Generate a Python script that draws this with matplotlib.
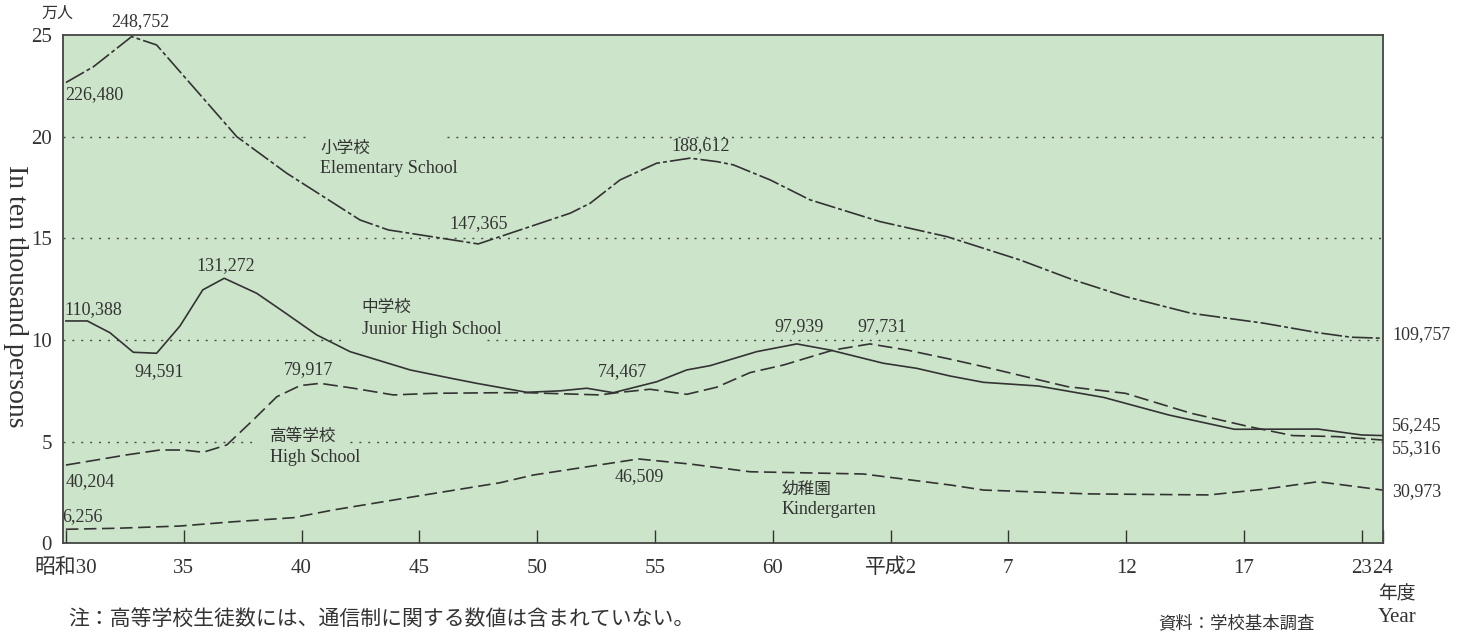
import matplotlib
matplotlib.use("Agg")
import matplotlib.pyplot as plt

plt.rcParams['font.family'] = ['Liberation Serif', 'Noto Sans CJK JP']
plt.rcParams['lines.scale_dashes'] = False

# x = years counted from 昭和30 on the chart's own scale (tick "23" sits at 55)
elem_x = [0, 1.17, 2.79, 3.85, 7.25, 9.37, 12.48, 13.68, 17.50, 21.40, 22.25, 23.52, 25.07,
          26.49, 27.63, 28.33, 29.89, 31.58, 34.55, 37.39, 40.50, 42.66, 44.97, 47.75,
          50.84, 53.15, 54.54, 55.89]
elem_y = [22.67, 23.45, 24.93, 24.52, 20.01, 18.21, 15.91, 15.42, 14.73, 16.24, 16.73, 17.88,
          18.70, 18.95, 18.78, 18.62, 17.88, 16.90, 15.83, 15.09, 13.94, 13.00, 12.14, 11.32,
          10.83, 10.36, 10.14, 10.09]

jhs_x = [0, 0.91, 1.87, 2.86, 3.85, 4.84, 5.81, 6.72, 8.10, 9.23, 10.65, 12.06, 14.61, 16.30,
         17.44, 19.56, 20.97, 22.11, 23.23, 25.08, 26.35, 27.34, 29.32, 31.02, 32.43, 34.69,
         36.11, 37.53, 38.95, 41.27, 44.04, 46.82, 49.60, 53.15, 55.00, 55.89]
jhs_y = [10.94, 10.94, 10.36, 9.40, 9.35, 10.69, 12.47, 13.04, 12.30, 11.40, 10.25, 9.43, 8.53,
         8.13, 7.87, 7.43, 7.50, 7.63, 7.41, 7.95, 8.53, 8.74, 9.43, 9.81, 9.51, 8.86, 8.61,
         8.23, 7.92, 7.74, 7.18, 6.31, 5.61, 5.62, 5.33, 5.30]

hs_x = [0, 0.88, 2.58, 3.99, 4.98, 5.83, 6.83, 7.95, 8.95, 9.94, 10.79, 12.20, 13.90, 15.59,
        18.43, 19.56, 22.67, 23.38, 24.79, 26.35, 27.62, 29.04, 30.45, 32.57, 34.13, 35.69,
        37.53, 38.95, 42.50, 44.97, 47.75, 50.22, 52.07, 53.93, 55.89]
hs_y = [3.85, 4.02, 4.35, 4.59, 4.59, 4.48, 4.84, 6.07, 7.21, 7.76, 7.87, 7.63, 7.30, 7.38,
        7.41, 7.41, 7.30, 7.41, 7.58, 7.33, 7.68, 8.40, 8.77, 9.51, 9.81, 9.51, 9.06, 8.69,
        7.71, 7.38, 6.40, 5.74, 5.30, 5.25, 5.08]

kg_x = [0, 2.16, 4.84, 7.11, 9.65, 11.35, 14.75, 18.43, 19.84, 24.30, 26.49, 29.04, 33.85,
        37.53, 38.95, 43.43, 48.52, 50.84, 53.15, 55.89]
kg_y = [0.69, 0.74, 0.85, 1.06, 1.26, 1.64, 2.29, 2.98, 3.36, 4.15, 3.90, 3.52, 3.41, 2.87,
        2.62, 2.43, 2.38, 2.66, 3.03, 2.62]

tick_pos = [0, 5, 10, 15, 20, 25, 30, 35, 40, 45, 50, 55, 55.89]
tick_labels = ['昭和30', '35', '40', '45', '50', '55', '60', '平成2', '7', '12', '17', '23', '24']

# peak / trough annotations: (text, x, y, ha)
value_labels = [
    ('248,752', 3.15, 25.66, 'center'),
    ('226,480', -0.04, 22.06, 'left'),
    ('147,365', 17.53, 15.74, 'center'),
    ('188,612', 26.96, 19.58, 'center'),
    ('131,272', 6.77, 13.67, 'center'),
    ('110,388', -0.07, 11.48, 'left'),
    ('94,591', 3.95, 8.45, 'center'),
    ('79,917', 10.32, 8.53, 'center'),
    ('74,467', 23.64, 8.45, 'center'),
    ('97,939', 31.12, 10.66, 'center'),
    ('97,731', 34.66, 10.66, 'center'),
    ('40,204', -0.01, 3.03, 'left'),
    ('6,256', -0.14, 1.31, 'left'),
    ('46,509', 24.33, 3.26, 'center'),
    ('109,757', 56.29, 10.25, 'left'),
    ('56,245', 56.29, 5.77, 'left'),
    ('55,316', 56.29, 4.64, 'left'),
    ('30,973', 56.29, 2.54, 'left'),
]

# series names: (jp, en, x, y_jp, y_en)
series_names = [
    ('小学校', 'Elementary School', 10.79, 19.38, 18.45),
    ('中学校', 'Junior High School', 12.55, 11.57, 10.50),
    ('高等学校', 'High School', 8.66, 5.23, 4.22),
    ('幼稚園', 'Kindergarten', 30.38, 2.62, 1.64),
]

ink = '#333333'
bg = '#cce5ca'

fig = plt.figure(figsize=(14.67, 6.35), dpi=100)
ax = fig.add_axes([0.04295, 0.14441, 0.89959, 0.80016])
ax.set_facecolor(bg)
ax.set_xlim(-0.123, 55.89)
ax.set_ylim(0, 25)

# dotted reference lines, broken where the series names sit
grid_segs = [(20, -0.123, 10.23), (20, 16.18, 55.89), (15, -0.123, 55.89),
             (10, -0.123, 11.92), (10, 17.87, 55.89), (5, -0.123, 8.03), (5, 12.06, 55.89)]
for gy, gx0, gx1 in grid_segs:
    ax.plot([gx0, gx1], [gy, gy], color='#444444', lw=1.0, dashes=(1.4, 5.0), zorder=1)

ax.plot(elem_x, elem_y, color=ink, lw=1.2, dashes=(15, 2.2, 2.8, 2.2), zorder=3)
ax.plot(jhs_x, jhs_y, color=ink, lw=1.2, zorder=3)
ax.plot(hs_x, hs_y, color=ink, lw=1.2, dashes=(10.5, 4.0), zorder=3)
ax.plot(kg_x, kg_y, color=ink, lw=1.2, dashes=(9, 4.0), zorder=3)

for txt, x, y, ha in value_labels:
    ax.text(x, y, txt, ha=ha, va='center', fontsize=13, color=ink, clip_on=False)

for jp, en, x, yj, ye in series_names:
    ax.text(x, yj, jp, ha='left', va='center', fontsize=12, color=ink)
    ax.text(x, ye, en, ha='left', va='center', fontsize=13, color=ink)

ax.set_xticks(tick_pos)
ax.set_xticklabels(tick_labels, fontsize=15, color=ink)
ax.set_yticks([0, 5, 10, 15, 20, 25])
ax.set_yticklabels(['0', '5', '10', '15', '20', '25'], fontsize=15, color=ink)
ax.tick_params(axis='x', direction='in', length=9.5, width=1.0, color=ink, pad=11)
ax.tick_params(axis='y', length=0, pad=8)
for s in ax.spines.values():
    s.set_color('#444444')
    s.set_linewidth(1.3)

fig.text(57.5 / 1467, 1 - 14 / 635, '万人', ha='center', va='center', fontsize=11.5, color=ink)
fig.text(15 / 1467, 1 - 296 / 635, 'In ten thousand persons', rotation=-90,
         ha='center', va='center', fontsize=20, color=ink)
fig.text(1397 / 1467, 1 - 595 / 635, '年度', ha='center', va='center', fontsize=13.5, color=ink)
fig.text(1397 / 1467, 1 - 618 / 635, 'Year', ha='center', va='center', fontsize=15, color=ink)
fig.text(68 / 1467, 1 - 620 / 635, '注：高等学校生徒数には、通信制に関する数値は含まれていない。',
         ha='left', va='center', fontsize=15, color=ink)
fig.text(1158 / 1467, 1 - 624 / 635, '資料：学校基本調査', ha='left', va='center',
         fontsize=12.5, color=ink)

fig.savefig('out.png', dpi=100, facecolor='white')
